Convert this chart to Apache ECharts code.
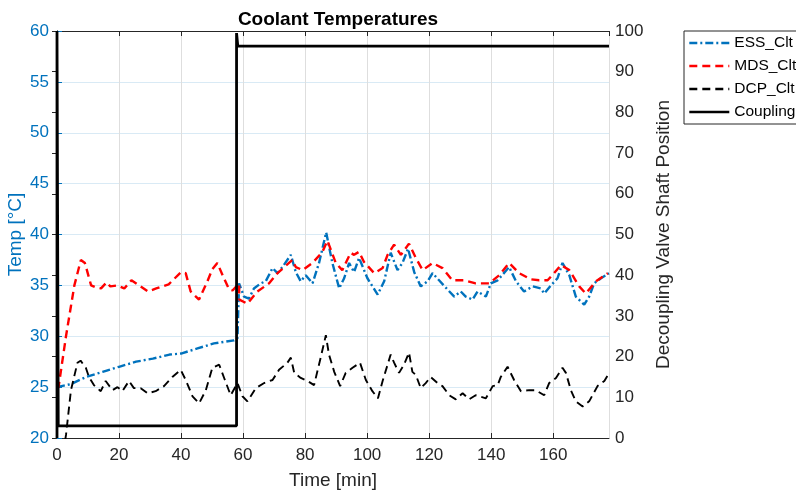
<!DOCTYPE html>
<html lang="en">
<head>
    <meta charset="UTF-8">
    <title>Coolant Temperatures</title>
    <script src="https://cdn.jsdelivr.net/npm/echarts@6/dist/echarts.min.js"></script>
    <style>
        html, body { margin: 0; padding: 0; background: #fff; }
        #main { width: 796px; height: 493px; }
    </style>
</head>
<body>
<div id="main"></div>
<script type="text/javascript">
    // time [min] and temperatures [°C]
    var essTime = [0, 4.5, 9.4, 14.7, 20, 25.5, 30.9, 36.3, 40, 45.3, 50.6, 57.1, 58.2, 58.7, 60.3, 61.9, 63.5, 65.7, 67.3, 69.5,
        71.1, 72.7, 75.4, 77, 78.6, 80.2, 82.4, 84.5, 86.8, 88.8, 91, 92.6, 94.2, 95.8, 97.4, 100.1, 103.4, 105.5, 107.6, 109.8,
        111.4, 113.2, 115.2, 117.3, 119.5, 121.1, 123.2, 125.9, 128.1, 130.2, 131.8, 134, 135.6, 138.3, 139.9, 142.1, 145.8, 148,
        150.6, 153.4, 156, 157.1, 159.3, 161.4, 163, 165.2, 167.3, 170, 171.6, 173.2, 175.4, 178];
    var essTemp = [25.0, 25.3, 26.0, 26.5, 27.0, 27.5, 27.8, 28.2, 28.3, 28.8, 29.3, 29.6, 29.8, 35.2, 33.9, 33.7, 34.7, 35.2, 35.4, 36.7,
        36.2, 36.8, 38.0, 36.3, 35.4, 36.0, 35.2, 37.2, 40.2, 37.2, 34.7, 35.7, 37.2, 36.3, 37.7, 35.7, 34.1, 35.4, 38.2, 36.5,
        37.2, 38.6, 36.3, 34.9, 35.4, 36.2, 35.5, 34.6, 33.9, 34.4, 33.9, 33.6, 34.4, 33.9, 35.2, 35.5, 36.8, 35.4,
        34.4, 34.9, 34.7, 34.2, 35.0, 35.7, 37.2, 36.0, 33.9, 33.1, 33.9, 35.2, 35.7, 36.2];

    var mdsTime = [0, 0.5, 2.9, 5.6, 7.7, 9, 11, 12.5, 14.2, 16, 17.2, 19.5, 21.7, 24, 26.5, 29.3, 32, 36, 40, 41.5,
        43.1, 45.8, 48.5, 50.1, 51.7, 53.4, 55.5, 56.6, 58.7, 58.8, 61.4, 64.6, 68.4, 71.1, 75.9, 77, 79.2, 82.4, 85.6, 87.2,
        89.9, 92, 94.7, 95.8, 97.4, 99, 102.3, 105, 106.6, 108.7, 110.9, 113.5, 115.7, 117.9, 121.1, 124.3, 127.5, 131.3, 135, 139.4,
        142.6, 145.8, 149, 152.8, 155.5, 158.2, 160.3, 162.5, 165.2, 168.4, 170.5, 173.8, 177.6];
    var mdsTemp = [24.8, 25.0, 30.0, 35.0, 37.5, 37.2, 35.0, 34.8, 34.7, 35.3, 34.9, 35.0, 34.7, 35.5, 35.0, 34.4, 34.7, 35.1, 36.3, 36.2,
        34.4, 33.6, 35.4, 36.6, 37.2, 36.0, 34.6, 34.5, 35.2, 33.6, 33.2, 34.4, 35.2, 36.2, 37.5, 36.8, 36.5, 37.2, 38.3, 39.4,
        37.2, 36.5, 38.2, 38.0, 38.3, 37.3, 36.2, 36.7, 38.0, 39.0, 38.0, 39.1, 37.7, 36.5, 37.2, 36.7, 35.5, 35.5, 35.2, 35.2,
        36.0, 37.2, 36.2, 35.6, 35.5, 35.5, 36.2, 37.0, 36.5, 34.9, 34.2, 35.4, 36.2];

    var dcpTime = [2.0, 2.9, 4.5, 6.6, 7.6, 9.3, 10.3, 11.9, 14.1, 15.7, 17.9, 19.5, 21.1, 23.2, 24.8, 27, 29.2, 31.8, 34.5, 37.2,
        39.9, 41.5, 43.7, 45.8, 48, 50.1, 52.3, 53.9, 56, 58.2, 59.8, 61.4, 64.1, 66.8, 69.5, 71.6, 74.3, 75.4, 76.5, 78.6,
        80.8, 82.9, 85.1, 86.7, 87.7, 89.4, 91.3, 93.1, 95.3, 97.7, 99.6, 101.7, 103.5, 105, 107.6, 108.7, 110.3, 111.9, 113.5, 114.6,
        115.7, 117.3, 118.9, 120.5, 122.7, 124.3, 126.5, 128.6, 130.8, 132.9, 135, 138.3, 140.5, 142.1, 143.1, 145.3, 147.4, 149.6, 152.3, 154.4,
        157.1, 158.7, 160.9, 163, 164.1, 165.7, 167.3, 169.5, 171.6, 174.3, 176.5, 178.1];
    var dcpTemp = [18.5, 20.3, 24.7, 27.4, 27.6, 26.9, 26.0, 25.2, 24.6, 25.6, 24.7, 25.0, 24.6, 25.6, 24.9, 24.9, 24.4, 24.6, 25.1, 26.0,
        26.7, 25.7, 24.1, 23.4, 24.7, 26.9, 27.2, 25.9, 24.2, 25.4, 24.1, 23.6, 24.9, 25.4, 25.7, 26.7, 27.4, 27.9, 26.4, 25.9,
        25.6, 25.2, 28.0, 30.1, 28.2, 26.5, 25.1, 26.4, 26.9, 27.4, 25.7, 24.6, 23.9, 25.6, 28.2, 27.4, 26.4, 27.2, 28.4, 26.5,
        26.2, 24.9, 25.4, 26.0, 25.4, 25.1, 24.2, 23.8, 24.4, 23.8, 24.2, 23.9, 25.1, 25.2, 26.0, 27.0, 25.7, 24.6, 24.7, 24.7,
        24.2, 25.4, 25.9, 26.9, 26.4, 24.7, 23.6, 23.1, 23.6, 25.1, 25.6, 26.4];

    // decoupling valve shaft position (right axis)
    var cplTime = [0, 0, 0.4, 57.9, 57.9, 58.3, 178];
    var cplPos = [0, 100, 3, 3, 99.5, 96.3, 96.3];

    var xTicks = { min: 0, max: 178, interval: 20 };

    function pairs(xs, ys) {
        var res = [];
        for (var i = 0; i < xs.length; i++) {
            res.push([xs[i], ys[i]]);
        }
        return res;
    }

    var blue = '#0072BD';
    var ink = '#262626';
    var font = 'Liberation Sans, Arial, sans-serif';

    var myChart = echarts.init(document.getElementById('main'));

    var option = {
        animation: false,
        backgroundColor: '#fff',
        title: {
            text: 'Coolant Temperatures',
            left: 333,
            textAlign: 'center',
            top: 5,
            textStyle: { fontFamily: font, fontSize: 19, fontWeight: 'bold', color: '#000' }
        },
        legend: {
            orient: 'vertical',
            left: 684,
            top: 31,
            padding: [4, 6, 4, 4],
            itemWidth: 40,
            itemHeight: 14,
            itemGap: 7,
            borderColor: ink,
            borderWidth: 1,
            borderRadius: 0,
            itemStyle: { opacity: 0 },
            lineStyle: { width: 2.6 },
            textStyle: { fontFamily: font, fontSize: 15.5, color: '#000' },
            data: ['ESS_Clt', 'MDS_Clt', 'DCP_Clt', 'Coupling']
        },
        grid: { left: 57, right: 187, top: 31, bottom: 55, containLabel: false, outerBoundsMode: 'none' },
        xAxis: [
            {
                type: 'value',
                min: xTicks.min,
                max: xTicks.max,
                interval: xTicks.interval,
                name: 'Time [min]',
                nameLocation: 'middle',
                nameGap: 33,
                nameTextStyle: { fontFamily: font, fontSize: 19, color: ink },
                axisLine: { show: true, lineStyle: { color: ink } },
                axisTick: { show: true, inside: true, length: 5, lineStyle: { color: ink } },
                axisLabel: { fontFamily: font, fontSize: 17, color: ink, margin: 9, showMaxLabel: false },
                splitLine: { show: true, lineStyle: { color: '#dedede' } }
            },
            {
                type: 'value',
                position: 'top',
                min: xTicks.min,
                max: xTicks.max,
                interval: xTicks.interval,
                axisLine: { show: true, lineStyle: { color: ink } },
                axisTick: { show: true, inside: true, length: 5, lineStyle: { color: ink } },
                axisLabel: { show: false },
                splitLine: { show: false }
            }
        ],
        yAxis: [
            {
                type: 'value',
                min: 20,
                max: 60,
                interval: 5,
                name: 'Temp [°C]',
                nameLocation: 'middle',
                nameGap: 32,
                nameMoveOverlap: false,
                nameTextStyle: { fontFamily: font, fontSize: 19, color: blue },
                axisLine: { show: true, lineStyle: { color: blue } },
                axisTick: { show: true, inside: true, length: 5, lineStyle: { color: blue } },
                axisLabel: { fontFamily: font, fontSize: 17, color: blue, margin: 8 },
                splitLine: { show: true, lineStyle: { color: '#d9eaf5' } }
            },
            {
                type: 'value',
                min: 0,
                max: 100,
                interval: 10,
                position: 'right',
                name: 'Decoupling Valve Shaft Position',
                nameLocation: 'middle',
                nameGap: 43,
                nameTextStyle: { fontFamily: font, fontSize: 19, color: ink },
                axisLine: { show: true, lineStyle: { color: ink } },
                axisTick: { show: true, inside: true, length: 5, lineStyle: { color: ink } },
                axisLabel: { fontFamily: font, fontSize: 17, color: ink, margin: 6 },
                splitLine: { show: false }
            }
        ],
        series: [
            {
                name: 'ESS_Clt',
                type: 'line',
                data: pairs(essTime, essTemp),
                symbol: 'none',
                color: blue,
                lineStyle: { width: 2.4, color: blue, type: [8, 3, 2, 3] }
            },
            {
                name: 'MDS_Clt',
                type: 'line',
                data: pairs(mdsTime, mdsTemp),
                symbol: 'none',
                color: '#ff0000',
                lineStyle: { width: 2.4, color: '#ff0000', type: [8, 5] }
            },
            {
                name: 'DCP_Clt',
                type: 'line',
                data: pairs(dcpTime, dcpTemp),
                symbol: 'none',
                color: '#000',
                lineStyle: { width: 1.9, color: '#000', type: [8, 5] }
            },
            {
                name: 'Coupling',
                type: 'line',
                yAxisIndex: 1,
                data: pairs(cplTime, cplPos),
                symbol: 'none',
                color: '#000',
                lineStyle: { width: 2.8, color: '#000', type: 'solid' }
            }
        ]
    };

    myChart.setOption(option);
</script>
</body>
</html>
